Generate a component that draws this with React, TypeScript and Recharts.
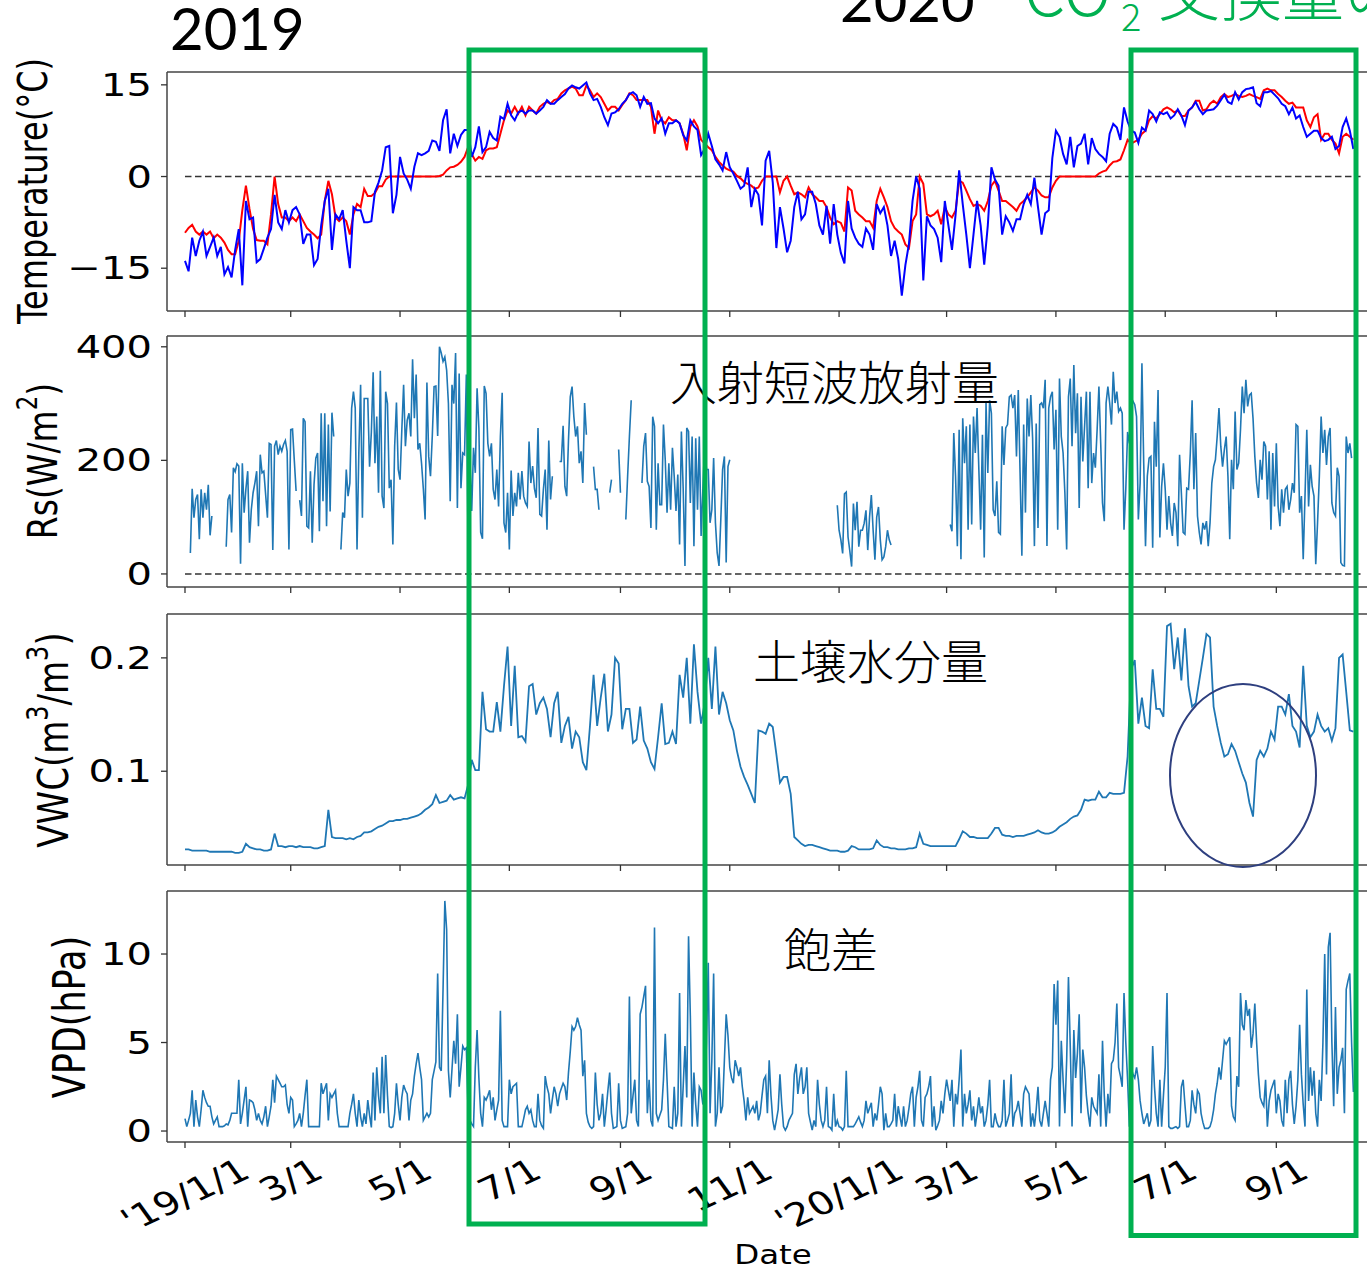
import React from 'react';
import { LineChart, Line, XAxis, YAxis, ReferenceLine } from 'recharts';

// ---- categories: day index counted from 2019-01-01 ----
const LAST_DAY = 652;
const STEP_DAYS = 2; // air/soil temperature and VWC are read every 2 days
const DAY_TICKS = [0, 59, 120, 181, 243, 304, 365, 425, 486, 547, 609];
const DAY_TICK_LABELS = ["'19/1/1", '3/1', '5/1', '7/1', '9/1', '11/1', "'20/1/1", '3/1', '5/1', '7/1', '9/1'];

// ---- series values ----
// every 2 days
const airTemp = [
  -13.8, -15.5, -10, -13, -10.5, -9, -13, -11.5, -10, -13,
  -11.5, -16, -14.8, -16.5, -12, -8.6, -17.8, -4, -7, -6.7,
  -14, -13.5, -11.8, -10, -8.6, -3, -7.5, -8.6, -5.5, -7.5,
  -5.5, -5, -6.2, -11, -9.5, -9.5, -14.5, -13.5, -8, -4,
  -2, -12, -6.2, -7, -5.5, -10.5, -15, -5, -5.5, -5.5,
  -7.5, -7.5, -7.3, -2.5, -1, 1, 4.8, 5, -6, -3,
  3.2, 0.5, -0.5, -2, 1.6, 3.8, 3.5, 3.8, 4.2, 5.9,
  5.7, 4.2, 9.2, 11, 3.8, 7, 5, 6.8, 7.6, 7.6,
  3.2, 4.8, 8.2, 4, 4.8, 7.3, 6.3, 5.9, 9.8, 9.4,
  11.9, 10, 9.2, 10.5, 10.8, 10.3, 10.8, 10.8, 10.3, 10.8,
  11.4, 12.5, 11.9, 11.9, 12.5, 13, 13.5, 14.4, 14.9, 14.6,
  14.4, 14.9, 15.4, 13.6, 12.5, 12.7, 11.4, 9.7, 8.4, 10.3,
  10.5, 11, 11.9, 12.5, 13.5, 13.8, 13.3, 11.4, 13, 11.9,
  12, 9.5, 8.7, 9.5, 7, 8.7, 8.7, 9.2, 8.7, 6.8,
  5.9, 9.2, 8.2, 7.6, 3.5, 4.5, 7, 5, 2.8, 2,
  1, 4, 1.5, 0.5, -0.7, -2, -1.5, 1.5, -5, -2,
  -3, -8, 2.6, 4.2, -1, -11.7, -5, -8.5, -12.4, -10.5,
  -5, -2.5, -7, -6.2, -2.5, -2.5, -4.5, -8, -9.5, -4.8,
  -11, -4.5, -9.5, -12.5, -14.2, -4, -8.5, -10, -11, -11.5,
  -8.5, -9.5, -12, -4.5, -6, -5, -8, -13, -10.5, -13.5,
  -19.5, -14.5, -11, -4, 0, -2, -17, -6.5, -8, -8.6,
  -10, -14, -4, -8, -12, -6.3, 1, -4.5, -9.5, -15,
  -9.5, -4, -8, -14.4, -8, 1.5, -0.5, -1.5, -9.5, -6.5,
  -7.5, -8.9, -7, -7, -4.5, -3, -4.5, -0.2, -5, -9.5,
  -6, -5.5, 3, 7.5, 6.5, 3.7, 2, 6.5, 1.5, 5,
  5.4, 7, 2, 6.3, 4.5, 3.7, 3.2, 2.5, 7, 8.6,
  8, 6, 11.3, 9, 7.5, 7.2, 5.5, 8, 7.5, 10.8,
  10.2, 9, 10.5, 10.2, 10.5, 9.5, 10, 11, 10, 8.4,
  10.8, 11.3, 12.2, 11, 10.2, 10.8, 10.9, 11, 11.6, 12.5,
  13.4, 12.2, 11.9, 13.8, 12.6, 13.8, 14.3, 14.4, 14.6, 12,
  11.5, 13.8, 13.8, 14, 13.4, 12.8, 11.9, 11.5, 10.2, 11.3,
  9.5, 10, 8.1, 6.5, 7, 7.5, 7.5, 6.3, 5.8, 6,
  6.5, 4.5, 5, 8.1, 9.5, 7.5, 4.5,
];

// every 2 days
const soilTemp = [
  -9.2, -8.4, -7.9, -9, -9.5, -9, -9.5, -9, -10.1, -9.5,
  -10, -10.8, -12, -12.7, -12.7, -10.5, -5.5, -1.5, -5.3, -8.6,
  -10.4, -10.5, -10.5, -11.1, -6.2, 0, -4.5, -6.7, -6.7, -7.3,
  -6.7, -7.3, -6.2, -7.3, -8.4, -9, -9.5, -10.1, -9.5, -4,
  -0.7, -2.9, -6.7, -7.3, -6.7, -7.3, -9.5, -6.2, -4.5, -5,
  -2, -3.2, -3.2, -2.7, -1.6, -1.6, -0.5, 0, 0, 0,
  0, 0, 0, 0, 0, 0, 0, 0, 0, 0,
  0, 0.1, 0.3, 1, 1.5, 1.6, 1.9, 2.4, 3.2, 4.8,
  3.7, 2.6, 3.2, 2.9, 4.3, 4.6, 4.6, 4.8, 7, 9.2,
  10.8, 10.3, 11.4, 10.3, 11.4, 10, 11.4, 10.8, 10.3, 11.4,
  11.9, 12.2, 11.9, 12.5, 12.7, 13.6, 14.1, 14.4, 14.7, 14.4,
  13.3, 13.3, 14.9, 14.1, 13, 13.6, 13, 11.9, 10.8, 11.4,
  11.4, 10.8, 11.7, 12.5, 13.6, 13.3, 12.5, 12.5, 12.5, 12.5,
  11.4, 7, 10.8, 9.2, 8.7, 9.7, 9.2, 9.2, 8.7, 7,
  4.3, 8.2, 9.2, 8.2, 6, 5.4, 4.8, 4.3, 3.2, 2.4,
  1.8, 1.3, 1, 0.8, 0.1, -0.3, -0.9, -1.2, -1.5, -2,
  -1.8, -0.7, 0, 0, 0, 0, -2.6, -0.7, 0, -1.5,
  -2.9, -2.6, -2.9, -3.4, -1.8, -2.9, -3.4, -4, -4, -5,
  -6.7, -7.8, -7.3, -7.6, -9, -1.8, -2.3, -5.6, -6.2, -6.7,
  -7.3, -7.3, -8.4, -4, -2, -3.4, -5, -7.3, -8.4, -9,
  -9.5, -11.1, -11.7, -7.3, -6.2, 0, -1.2, -6.2, -6.5, -6.2,
  -5.6, -7.8, -5, -6.2, -6.7, -5.6, -0.7, -1, -2.3, -3.7,
  -4.8, -4.5, -4.8, -5.6, -4, -1.5, -0.7, -2.3, -4, -4,
  -4.5, -5, -5.6, -4.5, -4, -3.4, -2.6, -1.8, -2.3, -3.1,
  -3.4, -3.4, -1.8, -0.7, 0, 0, 0, 0, 0, 0,
  0, 0, 0, 0, 0, 0.5, 0.8, 1, 1.8, 2.4,
  2.5, 2.8, 4.3, 6, 5.4, 5.7, 6, 7, 7.5, 9.2,
  9.9, 9.5, 10.2, 11, 11.3, 11, 10.5, 10.8, 9.9, 9.9,
  10.8, 11.3, 12.4, 12.4, 10.8, 11, 11.9, 12.4, 11.9, 13,
  13.5, 13, 13.2, 13.5, 13.2, 13, 13.2, 13.5, 13.2, 13,
  12.7, 14.1, 14.4, 14.1, 14.1, 13.5, 13, 12.4, 11.9, 12.1,
  11.3, 11.3, 11.3, 9.2, 8.1, 9.7, 10.2, 6, 7, 7,
  6, 5.4, 3.8, 6.5, 7, 6.5, 6,
];

// daily (null = missing)
const rsDaily: (number | null)[] = [
  null, null, null, 37, 150, 99, 131, 140, 61, 149, // d0
  99, 143, 113, 157, 68, 102, null, null, null, null, // d10
  null, null, null, 48, 131, 140, 73, 187, 180, 194, // d20
  190, 18, 195, 108, 150, 181, 55, 113, 143, 160, // d30
  181, 84, 210, 178, 181, 140, 99, 230, 228, 42, // d40
  225, 235, 210, 225, 216, 228, 235, 216, 43, 254, // d50
  255, 200, 146, null, 130, 102, 274, 268, 84, 81, // d60
  181, 55, 157, 204, 213, 75, 283, 128, 283, 84, // d70
  263, 110, 284, 242, null, null, null, 43, 108, 99, // d80
  184, 137, 160, 292, 321, 292, 43, 213, 333, 99, // d90
  309, 309, 309, 189, 250, 355, 195, 277, 143, 358, // d100
  137, 116, 321, 300, 151, 166, 52, 225, 302, 184, // d110
  166, 254, 333, 225, 271, 283, 242, 378, 274, 351, // d120
  219, 230, 195, 150, 96, 337, 207, 172, 243, 330, // d130
  331, 243, 400, 389, 374, 382, 359, 300, 128, 333, // d140
  300, 389, 116, 353, 151, 213, 210, 351, 43, 200, // d150
  111, 222, 178, 327, 257, 73, 62, 331, 318, 230, // d160
  207, 230, 149, 131, 184, 119, 242, 319, 90, 73, // d170
  143, 43, 182, 102, 143, 119, 178, 131, 181, 137, // d180
  125, 119, 233, 160, 190, 150, 134, 257, 105, 102, // d190
  149, 184, 78, 235, 131, 172, null, null, null, 198, // d200
  198, 261, 154, 137, 236, 312, 330, 277, 242, 260, // d210
  195, 216, 160, 301, 245, null, null, null, 189, 149, // d220
  149, 113, null, null, null, null, null, 143, 166, null, // d230
  null, null, 219, 143, null, null, 96, 172, 242, 306, // d240
  null, null, null, null, null, 160, 225, 248, 163, 154, // d250
  81, 277, 260, 78, 195, 122, 122, 263, 201, 108, // d260
  195, 113, 222, 172, 111, 175, 52, 251, 151, 14, // d270
  257, 251, 125, 242, 49, 239, 113, 242, 67, 150, // d280
  230, 184, 184, 90, 113, 204, 90, 37, 14, 96, // d290
  184, 207, 20, 189, 201, null, null, null, null, null, // d300
  null, null, null, null, null, null, null, null, null, null, // d310
  null, null, null, null, null, null, null, null, null, null, // d320
  null, null, null, null, null, null, null, null, null, null, // d330
  null, null, null, null, null, null, null, null, null, null, // d340
  null, null, null, null, null, null, null, null, null, null, // d350
  null, null, null, null, 121, 77, 60, 36, 141, 144, // d360
  65, 40, 13, 124, 77, 127, 48, 77, 77, 89, // d370
  112, 42, 100, 139, 77, 25, 100, 118, 60, 25, // d380
  30, 48, 77, 60, 51, null, null, null, null, null, // d390
  null, null, null, null, null, null, null, null, null, null, // d400
  null, null, null, null, null, null, null, null, null, null, // d410
  null, null, null, null, null, null, null, 87, 75, 248, // d420
  172, 49, 254, 26, 274, 195, 260, 78, 263, 87, // d430
  277, 213, 292, 184, 78, 245, 29, 301, 178, 306, // d440
  283, 113, 102, 163, 73, 70, 260, 192, 257, 263, // d450
  312, 315, 292, 315, 207, 324, 178, 32, 263, 108, // d460
  309, 242, 315, 239, 49, 265, 81, 298, 301, 292, // d470
  342, 49, 292, 312, 321, 219, 289, 78, 344, 242, // d480
  213, 143, 43, 312, 344, 225, 368, 248, 318, 116, // d490
  312, 198, 260, 321, 151, 321, 160, 213, 187, 254, // d500
  330, 230, 125, 93, 301, 330, 301, 263, 356, 301, // d510
  321, 286, 292, 283, 78, 150, 250, 230, 300, 304, // d520
  298, 277, 96, 160, 371, 195, 49, 172, 204, 207, // d530
  46, 268, 189, 324, 64, 154, 195, 149, 78, 137, // d540
  90, 67, 125, 108, 49, 210, 143, 73, 70, 151, // d550
  149, 213, 306, 149, 248, 102, 73, 52, 90, 78, // d560
  93, 49, 90, 160, 189, 201, 242, 292, 225, 189, // d570
  219, 242, 172, 61, 201, 149, 286, 184, 195, 254, // d580
  330, 283, 342, 295, 315, 318, 274, 207, 160, 134, // d590
  201, 166, 233, 225, 131, 216, 78, 213, 119, 230, // d600
  119, 84, 149, 108, 149, 154, 113, 131, 160, 143, // d610
  263, 260, 108, 137, 26, 137, 254, 119, 192, 154, // d620
  137, 17, 90, 172, 277, 213, 254, 192, 242, 257, // d630
  125, 108, 102, 187, 172, 20, 15, 14, 242, 213, // d640
  230, 204, null, // d650
];

// every 2 days
const vwc = [
  0.031, 0.031, 0.030, 0.030, 0.030, 0.030, 0.030, 0.029, 0.029, 0.029,
  0.029, 0.029, 0.029, 0.029, 0.028, 0.028, 0.029, 0.036, 0.033, 0.032,
  0.031, 0.031, 0.030, 0.030, 0.031, 0.045, 0.034, 0.034, 0.033, 0.034,
  0.034, 0.033, 0.034, 0.033, 0.033, 0.033, 0.032, 0.032, 0.033, 0.034,
  0.066, 0.042, 0.041, 0.041, 0.041, 0.040, 0.041, 0.040, 0.042, 0.043,
  0.046, 0.046, 0.047, 0.049, 0.051, 0.052, 0.054, 0.056, 0.056, 0.057,
  0.057, 0.058, 0.058, 0.059, 0.060, 0.061, 0.063, 0.066, 0.068, 0.071,
  0.079, 0.072, 0.073, 0.074, 0.079, 0.075, 0.076, 0.077, 0.076, 0.088,
  0.110, 0.101, 0.101, 0.170, 0.137, 0.135, 0.135, 0.161, 0.135, 0.175,
  0.21, 0.14, 0.193, 0.13, 0.131, 0.126, 0.175, 0.177, 0.15, 0.16,
  0.165, 0.155, 0.13, 0.16, 0.17, 0.125, 0.14, 0.148, 0.12, 0.135,
  0.13, 0.108, 0.101, 0.14, 0.185, 0.14, 0.165, 0.186, 0.135, 0.15,
  0.2, 0.195, 0.137, 0.155, 0.155, 0.125, 0.128, 0.157, 0.127, 0.12,
  0.108, 0.102, 0.13, 0.16, 0.124, 0.125, 0.135, 0.124, 0.185, 0.165,
  0.2, 0.142, 0.212, 0.17, 0.142, 0.16, 0.2, 0.155, 0.21, 0.15,
  0.17, 0.16, 0.145, 0.136, 0.118, 0.104, 0.095, 0.088, 0.08, 0.072,
  0.136, 0.135, 0.133, 0.142, 0.139, 0.115, 0.09, 0.095, 0.095, 0.08,
  0.042, 0.039, 0.036, 0.034, 0.035, 0.035, 0.034, 0.033, 0.032, 0.031,
  0.030, 0.030, 0.030, 0.029, 0.029, 0.030, 0.034, 0.033, 0.031, 0.031,
  0.031, 0.031, 0.032, 0.039, 0.035, 0.033, 0.033, 0.032, 0.032, 0.031,
  0.031, 0.031, 0.032, 0.032, 0.033, 0.045, 0.036, 0.035, 0.034, 0.034,
  0.034, 0.034, 0.034, 0.034, 0.034, 0.034, 0.040, 0.047, 0.045, 0.042,
  0.042, 0.041, 0.041, 0.041, 0.041, 0.045, 0.050, 0.050, 0.044, 0.043,
  0.043, 0.042, 0.043, 0.043, 0.043, 0.044, 0.045, 0.046, 0.048, 0.046,
  0.045, 0.045, 0.046, 0.048, 0.051, 0.053, 0.055, 0.058, 0.06, 0.061,
  0.066, 0.075, 0.074, 0.075, 0.075, 0.082, 0.077, 0.077, 0.081, 0.080,
  0.080, 0.080, 0.081, 0.113, 0.19, 0.198, 0.142, 0.165, 0.14, 0.138,
  0.19, 0.155, 0.155, 0.148, 0.228, 0.23, 0.19, 0.218, 0.18, 0.226,
  0.175, 0.157, 0.16, 0.18, 0.2, 0.221, 0.218, 0.157, 0.14, 0.125,
  0.113, 0.115, 0.124, 0.118, 0.108, 0.098, 0.09, 0.072, 0.06, 0.11,
  0.118, 0.113, 0.12, 0.135, 0.128, 0.157, 0.157, 0.15, 0.168, 0.14,
  0.135, 0.121, 0.193, 0.14, 0.13, 0.135, 0.15, 0.14, 0.135, 0.138,
  0.127, 0.138, 0.2, 0.203, 0.17, 0.136, 0.135,
];

// daily
const vpdDaily = [
  0.7, 0.25, 0.6, 1, 2.3, 0.25, 1.75, 0.8, 0.25, 1.2, // d0
  2.3, 1.9, 1.6, 1.4, 1.4, 0.8, 0.4, 0.6, 0.8, 0.25, // d10
  0.25, 0.25, 0.3, 0.4, 0.35, 0.6, 1, 1, 1, 1, // d20
  2.9, 0.4, 1, 1.75, 2.5, 0.25, 1.75, 1.7, 1.6, 1.2, // d30
  0.6, 1, 0.6, 0.4, 0.8, 1.4, 0.25, 0.8, 1.4, 2.9, // d40
  1.6, 3.1, 2.9, 2.7, 2.5, 2.5, 2.6, 1.5, 1, 1.9, // d50
  1.75, 0.25, 0.4, 0.6, 1, 0.25, 1, 2, 2.9, 0.25, // d60
  0.25, 0.25, 0.25, 0.25, 0.25, 0.25, 2.7, 2.1, 2.4, 2.7, // d70
  0.6, 2.1, 1.9, 2.1, 2.3, 1, 0.25, 0.25, 0.25, 0.25, // d80
  0.25, 0.25, 1, 1.5, 2.1, 1, 0.25, 1.75, 0.8, 0.25, // d90
  1, 0.4, 1.75, 0.9, 0.2, 3.3, 0.6, 3.6, 2, 1, // d100
  4.2, 1, 4.3, 2, 0.25, 0.2, 0.25, 1, 2.7, 1.5, // d110
  0.6, 1.9, 2.6, 2.3, 2.1, 0.6, 1.75, 2.1, 3.1, 3.8, // d120
  4.4, 3.6, 2.9, 0.6, 0.8, 1, 0.8, 1, 2.9, 3.4, // d130
  3.9, 8.9, 3.6, 3.4, 8, 13, 11.4, 3.4, 1.9, 3.5, // d140
  5.1, 3.8, 6.6, 2.5, 3.6, 4.8, 4.6, 4.7, 1, 0.6, // d150
  0.4, 0.25, 3.6, 5.7, 3, 1, 0.25, 1.9, 1.75, 2, // d160
  2.3, 1.2, 1.9, 0.6, 1.2, 1.75, 6.8, 0.6, 0.25, 0.25, // d170
  0.25, 2.9, 2.1, 2.5, 2.6, 2.7, 0.25, 0.25, 0.25, 0.7, // d180
  1.2, 1.4, 1, 1.2, 0.6, 0.25, 0.25, 2.1, 0.6, 0.3, // d190
  0.15, 3.1, 2.5, 2.1, 1, 1.8, 2.5, 2.1, 1.4, 2.1, // d200
  2.4, 2.7, 2.5, 1.75, 3.3, 4.5, 5.9, 5.7, 5.9, 6.4, // d210
  6, 5.7, 3.1, 4, 1, 0.5, 0.25, 0.15, 0.25, 3.3, // d220
  1.5, 0.6, 1, 2.1, 0.25, 1.2, 2.3, 3.3, 1, 0.15, // d230
  0.2, 0.25, 2.7, 0.6, 0.15, 0.2, 0.25, 1, 7.6, 1, // d240
  2, 2.9, 0.6, 0.25, 6.6, 7, 7.6, 8.2, 1, 2.9, // d250
  0.6, 0.25, 11.5, 1, 0.6, 0.9, 1.2, 2.9, 5.5, 2.9, // d260
  0.25, 0.2, 0.15, 2.5, 0.25, 1, 7.8, 0.25, 2.5, 4.8, // d270
  1.9, 11, 6.5, 0.25, 3.3, 1.5, 0.25, 2.5, 2.3, 1.5, // d280
  2, 5, 9.5, 1, 4, 8.9, 0.25, 1, 3.6, 1, // d290
  1.4, 4, 6.6, 5.4, 3.6, 3, 2.7, 4, 3.6, 3.1, // d300
  3.6, 2.5, 1.7, 0.6, 1.9, 1, 1.2, 1.4, 1, 1.7, // d310
  0.6, 1, 2, 2.9, 3.1, 1, 4, 2, 0.6, 0.05, // d320
  0.6, 1.2, 3.2, 1.5, 0.25, 0.05, 0.25, 0.6, 0.8, 1, // d330
  3.2, 3.8, 2.1, 3, 3.6, 2.1, 2.5, 3.6, 1, 0.5, // d340
  0.05, 0.6, 0.25, 2.9, 1.5, 0.6, 0.25, 0.6, 2.5, 0.25, // d350
  0.2, 0.05, 2.1, 0.25, 0.6, 0.25, 0.2, 0.05, 0.25, 3.4, // d360
  0.25, 0.25, 0.25, 0.25, 0.4, 0.6, 0.8, 0.5, 0.25, 0.6, // d370
  1.7, 1, 1.3, 1.6, 0.25, 1, 0.6, 1.5, 2.5, 2.1, // d380
  0.05, 1, 0.25, 0.25, 0.4, 0.6, 2.1, 0.25, 1.4, 0.8, // d390
  0.25, 1.4, 0.25, 0.6, 1.3, 2.1, 2.5, 0.25, 1.9, 2.5, // d400
  3.4, 0.6, 0.25, 1.9, 2.1, 2.5, 3.1, 0.25, 1.4, 0.05, // d410
  0.3, 0.6, 1.7, 1, 2.1, 2.9, 2.3, 1.7, 2.9, 0.25, // d420
  2.1, 1.5, 2.9, 4.6, 0.25, 2.1, 1, 1.5, 2.3, 0.6, // d430
  1.4, 0.25, 1, 1.9, 1, 1.4, 0.25, 0.6, 1.5, 2.9, // d440
  0.25, 0.25, 1, 0.5, 0.25, 0.25, 0.6, 2.9, 0.25, 0.6, // d450
  1, 3.2, 0.25, 1, 1.2, 1.7, 1, 0.25, 2.1, 2.5, // d460
  2.3, 2.1, 0.25, 1, 0.25, 1.2, 2.5, 0.6, 0.25, 1, // d470
  1.7, 1, 0.25, 2.9, 3.6, 8.3, 6, 8.5, 0.25, 5.1, // d480
  2.9, 1, 4, 8.7, 4.8, 0.25, 5.7, 3, 4.4, 6.6, // d490
  1, 4.6, 3.6, 2, 1, 0.25, 1.9, 1.4, 1.2, 1, // d500
  3.2, 0.25, 5.1, 2, 0.25, 2.1, 1, 3.8, 4, 5, // d510
  7.2, 3.6, 3.1, 2.5, 7.8, 5, 2.9, 0.25, 3.6, 3.2, // d520
  3, 3.6, 2.9, 1.7, 1, 0.4, 0.7, 1, 0.25, 0.6, // d530
  4.8, 2.5, 1, 0.25, 2.9, 0.25, 2, 3.6, 7.8, 0.25, // d540
  0.15, 0.15, 0.2, 0.25, 0.15, 0.25, 2.5, 2.9, 1.5, 0.25, // d550
  0.25, 0.6, 2.3, 1.5, 1, 2.3, 2.1, 1, 0.5, 0.15, // d560
  0.15, 0.15, 0.25, 0.6, 1.2, 2.1, 2.7, 3.6, 2.9, 4, // d570
  5.1, 4.9, 5.1, 5.3, 1.4, 0.8, 0.6, 3.1, 2.5, 7.8, // d580
  6, 5.7, 7.4, 6.5, 6.9, 4.7, 5.5, 7.2, 5, 3.2, // d590
  1.9, 1.6, 1.4, 2.9, 0.25, 1.7, 2.3, 2.6, 2.9, 1, // d600
  2.1, 1.7, 0.6, 0.25, 2.9, 1, 2.9, 3.4, 1.5, 0.4, // d610
  1.4, 2.9, 6, 3.2, 1.5, 0.25, 8, 1.7, 3.6, 2, // d620
  3.4, 1, 0.25, 2.9, 1.7, 5, 10, 3.2, 10.4, 11.2, // d630
  5, 1.4, 7, 2.1, 3.6, 4, 4.7, 1, 8, 8.5, // d640
  8.9, 5, 2.2, // d650
];

const data = Array.from({ length: LAST_DAY + 1 }, (_, d) => {
  const even = d % STEP_DAYS === 0;
  const i = d / STEP_DAYS;
  return {
    d,
    air: even ? airTemp[i] ?? null : null,
    soil: even ? soilTemp[i] ?? null : null,
    vwc: even ? vwc[i] ?? null : null,
    rs: rsDaily[d] ?? null,
    vpd: vpdDaily[d] ?? null,
  };
});

// ---- layout ----
const X_DOMAIN: [number, number] = [-10.04, 664.06];
const PLOT_LEFT = 167;
const CHART_W = 1380;
const RIGHT_M = 5;
const AXIS_COLOR = '#444';
const FONT = 'DejaVu Sans';
const SX = 1.25; // horizontal stretch of the original figure

const CHAR_W: Record<string, number> = { "'": 0.275, '/': 0.337 };
function textWidth(s: string, fs: number) {
  let w = 0;
  for (const c of s) w += CHAR_W[c] ?? 0.636;
  return w * fs;
}

function XTickLabel(props: any) {
  const { x, payload } = props;
  const i = DAY_TICKS.indexOf(payload.value);
  const label = i >= 0 ? DAY_TICK_LABELS[i] : '';
  const fs = 32;
  const w = textWidth(label, fs);
  const h = w * 0.5 + 0.73 * fs * 0.866;
  const cy = 1157 + h / 2;
  return (
    <g transform={`translate(${x},${cy}) scale(${SX},1) rotate(-30)`}>
      <text x={0} y={0} textAnchor="middle" dominantBaseline="central" fontFamily={FONT} fontSize={fs} fill="#000">
        {label}
      </text>
    </g>
  );
}

function makeYTick(fmt: (v: number) => string) {
  return (props: any) => {
    const { y, payload } = props;
    return (
      <g transform={`translate(152,${y}) scale(${SX},1)`}>
        <text x={0} y={0} textAnchor="end" dominantBaseline="central" fontFamily={FONT} fontSize={32} fill="#000">
          {fmt(payload.value)}
        </text>
      </g>
    );
  };
}

const emptyTick = () => <g />;

type PanelProps = {
  top: number;
  bottom: number;
  domain: [number, number];
  ticks: number[];
  fmt: (v: number) => string;
  last?: boolean;
  zeroLine?: boolean;
  series: React.ReactElement[];
};

function Panel({ top, bottom, domain, ticks, fmt, last, zeroLine, series }: PanelProps) {
  const xh = last ? 127 : 30;
  const H = bottom + xh;
  const children: React.ReactElement[] = [
    <XAxis
      key="x"
      dataKey="d"
      type="number"
      domain={X_DOMAIN}
      allowDataOverflow
      ticks={DAY_TICKS}
      interval={0}
      height={xh}
      tickSize={6}
      tickLine={{ stroke: '#333', strokeWidth: 1.3 }}
      axisLine={{ stroke: AXIS_COLOR, strokeWidth: 1.5 }}
      tick={last ? XTickLabel : emptyTick}
    />,
    <YAxis
      key="y"
      type="number"
      domain={domain}
      allowDataOverflow
      ticks={ticks}
      interval={0}
      width={PLOT_LEFT}
      tickSize={6}
      tickMargin={9}
      tickLine={{ stroke: '#333', strokeWidth: 1.3 }}
      axisLine={{ stroke: AXIS_COLOR, strokeWidth: 1.5 }}
      tick={makeYTick(fmt)}
    />,
    <ReferenceLine key="top" y={domain[1]} stroke={AXIS_COLOR} strokeWidth={1.5} />,
  ];
  if (zeroLine) {
    children.push(
      <ReferenceLine
        key="zero"
        segment={[{ x: 0, y: 0 }, { x: 656, y: 0 }]}
        stroke="#333"
        strokeWidth={1.6}
        strokeDasharray="6.5 3.5"
      />
    );
  }
  return (
    <div style={{ position: 'absolute', left: 0, top: 0 }}>
      <LineChart width={CHART_W} height={H} data={data} margin={{ top, right: RIGHT_M, bottom: 0, left: 0 }}>
        {[...children, ...series]}
      </LineChart>
    </div>
  );
}

const MPL_BLUE = '#1f77b4';

export default function App() {
  return (
    <div
      style={{
        position: 'fixed',
        left: 0,
        top: 0,
        width: 1367,
        height: 1269,
        overflow: 'hidden',
        background: '#fff',
      }}
    >
      <Panel
        top={72}
        bottom={311}
        domain={[-22, 17.1]}
        ticks={[-15, 0, 15]}
        fmt={(v) => (v < 0 ? '\u2212' + Math.abs(v) : String(v))}
        zeroLine
        series={[
          <Line key="soil" type="linear" dataKey="soil" stroke="#ff0000" strokeWidth={2} dot={false} connectNulls isAnimationActive={false} />,
          <Line key="air" type="linear" dataKey="air" stroke="#0000ff" strokeWidth={2} dot={false} connectNulls isAnimationActive={false} />,
        ]}
      />
      <Panel
        top={336}
        bottom={587}
        domain={[-23, 419]}
        ticks={[0, 200, 400]}
        fmt={(v) => String(v)}
        zeroLine
        series={[
          <Line key="rs" type="linear" dataKey="rs" stroke={MPL_BLUE} strokeWidth={1.6} dot={false} connectNulls={false} isAnimationActive={false} />,
        ]}
      />
      <Panel
        top={614}
        bottom={865}
        domain={[0.0173, 0.2387]}
        ticks={[0.1, 0.2]}
        fmt={(v) => v.toFixed(1)}
        series={[
          <Line key="vwc" type="linear" dataKey="vwc" stroke={MPL_BLUE} strokeWidth={1.8} dot={false} connectNulls isAnimationActive={false} />,
        ]}
      />
      <Panel
        top={891}
        bottom={1142}
        domain={[-0.62, 13.56]}
        ticks={[0, 5, 10]}
        fmt={(v) => String(v)}
        last
        series={[
          <Line key="vpd" type="linear" dataKey="vpd" stroke={MPL_BLUE} strokeWidth={1.6} dot={false} isAnimationActive={false} />,
        ]}
      />

      <svg width={1367} height={1269} style={{ position: 'absolute', left: 0, top: 0, pointerEvents: 'none' }}>
        {/* axis titles */}
        <g transform={`translate(33,191) scale(${SX},1) rotate(-90)`}>
          <text textAnchor="middle" dominantBaseline="central" fontFamily={FONT} fontSize={32} fill="#000">
            Temperature(°C)
          </text>
        </g>
        <g transform={`translate(43,461) scale(${SX},1) rotate(-90)`}>
          <text textAnchor="middle" dominantBaseline="central" fontFamily={FONT} fontSize={33} fill="#000">
            Rs(W/m<tspan dy={-13} fontSize={23}>2</tspan>
            <tspan dy={13}>)</tspan>
          </text>
        </g>
        <g transform={`translate(53,740) scale(${SX},1) rotate(-90)`}>
          <text textAnchor="middle" dominantBaseline="central" fontFamily={FONT} fontSize={34} fill="#000">
            VWC(m<tspan dy={-13} fontSize={24}>3</tspan>
            <tspan dy={13}>/m</tspan>
            <tspan dy={-13} fontSize={24}>3</tspan>
            <tspan dy={13}>)</tspan>
          </text>
        </g>
        <g transform={`translate(70,1017) scale(${SX},1) rotate(-90)`}>
          <text textAnchor="middle" dominantBaseline="central" fontFamily={FONT} fontSize={35} fill="#000">
            VPD(hPa)
          </text>
        </g>
        <g transform={`translate(773,1255) scale(${SX},1)`}>
          <text textAnchor="middle" dominantBaseline="central" fontFamily={FONT} fontSize={26} fill="#000">
            Date
          </text>
        </g>

        {/* panel captions */}
        <text x={670} y={379} dominantBaseline="central" fontFamily="Noto Sans CJK JP" fontWeight={300} fontSize={47} fill="#000">
          入射短波放射量
        </text>
        <text x={753} y={658} dominantBaseline="central" fontFamily="Noto Sans CJK JP" fontWeight={300} fontSize={47} fill="#000">
          土壌水分量
        </text>
        <text x={784} y={946} dominantBaseline="central" fontFamily="Noto Sans CJK JP" fontWeight={300} fontSize={47} fill="#000">
          飽差
        </text>

        {/* year titles */}
        <text x={170} y={50} fontFamily="Lato" fontSize={58} fill="#000">2019</text>
        <text x={840} y={22} fontFamily="Lato" fontSize={58} fill="#000">2020</text>
        <text fontFamily="Noto Sans CJK JP" fontWeight={300} fill="#00B050">
          <tspan x={1024} y={16} fontSize={66}>CO</tspan>
          <tspan x={1121} y={31} fontSize={38}>2</tspan>
          <tspan x={1158} y={16} fontSize={62}>交換量の変化</tspan>
        </text>

        {/* highlight boxes */}
        <rect x={469} y={50} width={236} height={1174} fill="none" stroke="#00B050" strokeWidth={5} />
        <rect x={1131} y={50} width={225} height={1185.5} fill="none" stroke="#00B050" strokeWidth={5} />
        <ellipse cx={1243} cy={775.5} rx={73} ry={91.5} fill="none" stroke="#2E3F7F" strokeWidth={2} />
      </svg>
    </div>
  );
}
